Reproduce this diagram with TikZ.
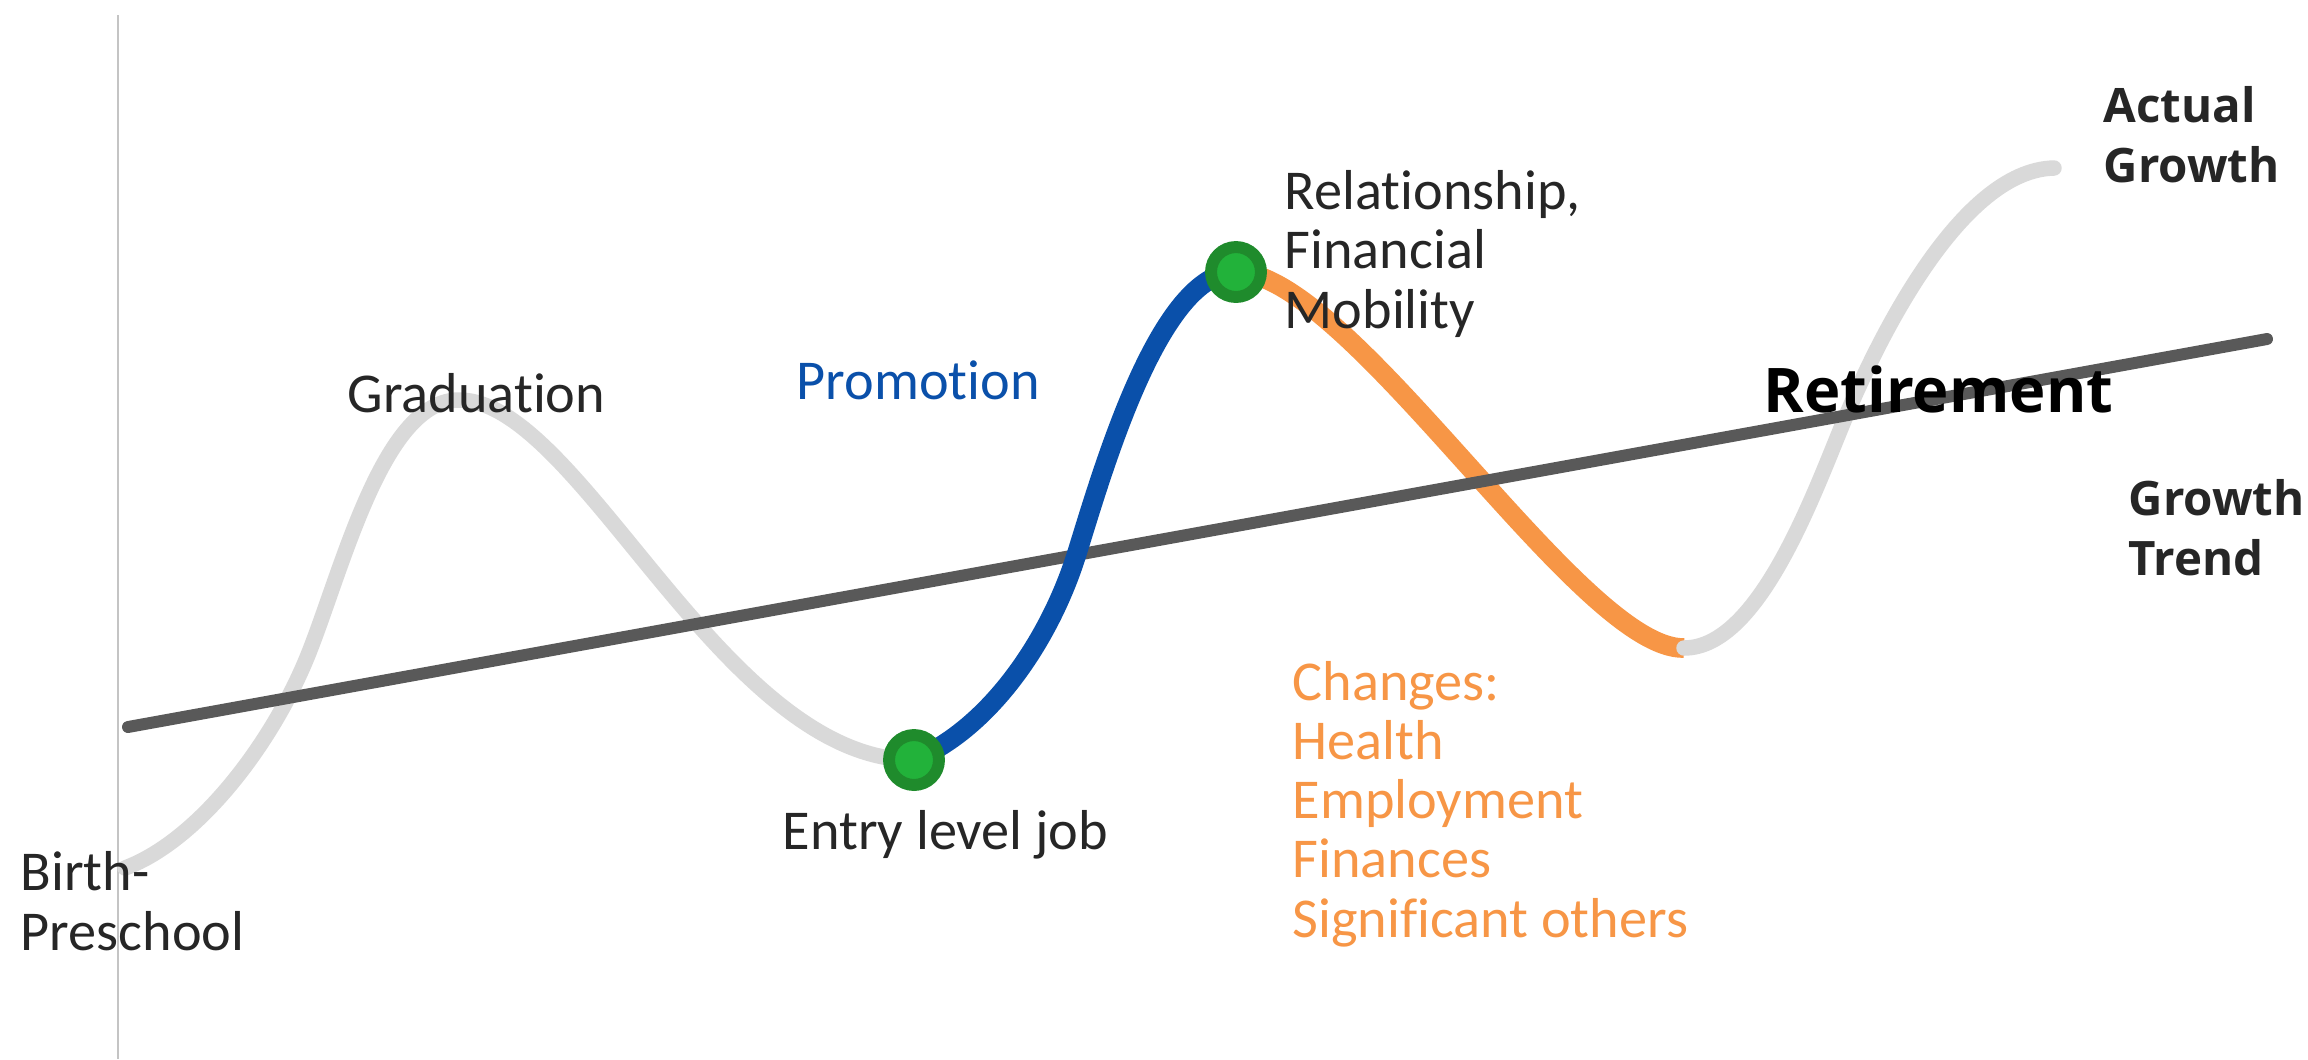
\documentclass[tikz,border=0pt]{standalone}
\usepackage{fontspec}
\usepackage{xcolor}
\usetikzlibrary{calc,
	positioning}
\setmainfont{Carlito}[Ligatures={NoCommon,NoRare}]
\newfontfamily\headfont{Open Sans}
\definecolor{curvegray}{HTML}{D9D9D9}
\definecolor{trendgray}{HTML}{595959}
\definecolor{axisgray}{HTML}{C4C4C4}
\definecolor{riseblue}{HTML}{0A50AA}
\definecolor{fallorange}{HTML}{F79646}
\definecolor{ringgreen}{HTML}{1F8B2C}
\definecolor{dotgreen}{HTML}{22B23A}
\definecolor{labeltext}{HTML}{262626}
\tikzstyle{lbl}=[inner sep=0, anchor=base west, align=left, text=labeltext,
		font=\fontsize{16}{16.8}\selectfont]
\tikzstyle{head}=[inner sep=0, anchor=base west, align=left, text=labeltext,
		font=\headfont\bfseries\fontsize{13.5}{17}\selectfont]
\tikzstyle{dot}=[circle, draw=ringgreen, fill=dotgreen, line width=3.4pt,
		minimum size=14.2pt, inner sep=0]
\tikzstyle{axis}=[draw=axisgray, line width=0.6pt]
\tikzstyle{actual}=[draw=curvegray, line width=4.4pt, line cap=round]
\tikzstyle{trend}=[draw=trendgray, line width=3.4pt, line cap=round]
\tikzstyle{rise}=[draw=riseblue, line width=5.6pt]
\tikzstyle{fall}=[draw=fallorange, line width=5.6pt]

\begin{document}
\begin{tikzpicture}[x=0.01cm, y=-0.01cm]
        \useasboundingbox (0,0) rectangle (2308,1059);
        \coordinate (axtop) at (118,15);
        \coordinate (axbot) at (118,1059);
        \draw[axis] (axtop) -- (axbot);

        \coordinate (birth) at (125,868);
        \coordinate (bend1) at (310,650);
        \coordinate (gradtop) at (459,400);
        \coordinate (entrypt) at (914,760);
        \coordinate (bend2) at (1077,553);
        \coordinate (relpt) at (1236,272);
        \coordinate (lowpt) at (1684,648);
        \coordinate (bend3) at (1846,416);
        \coordinate (endpt) at (2054,168);
        \coordinate (t0) at (128,727);
        \coordinate (t1) at (2267,339);

        \draw[fall] (relpt) .. controls (1350,272) and (1580,650) .. (lowpt);
        \draw[actual] (birth) .. controls (200,840) and (275,740) .. (bend1)
            .. controls (345,560) and (385,400) .. (gradtop)
            .. controls (580,400) and (722,760) .. (entrypt);
        \draw[actual] (lowpt) .. controls (1760,648) and (1815,490) .. (bend3)
            .. controls (1877,342) and (1960,170) .. (endpt);
        \draw[trend] (t0) -- (t1);
        \draw[rise] (entrypt) .. controls (990,728) and (1050,640) .. (bend2)
            .. controls (1104,466) and (1160,272) .. (relpt);
        \node[dot] (entry) at (entrypt) {};
        \node[dot] (rel) at (relpt) {};

        \node[lbl] (birthlbl) at (20,950) {Birth-\\Preschool};
        \node[lbl] (gradlbl) at (347,412) {Graduation};
        \node[lbl, text=riseblue] (promolbl) at (796,399) {Promotion};
        \node[lbl] (entrylbl) at (782,849) {Entry level job};
        \node[lbl] (rellbl) at (1284,328) {Relationship,\\Financial\\Mobility};
        \node[lbl, text=fallorange] (chglbl) at (1292,937) {Changes:\\Health\\Employment\\Finances\\Significant others};
        \node[head, text=black, font=\headfont\bfseries\fontsize{17.5}{20}\selectfont] (retlbl) at (1763,412) {Retirement};
        \node[head] (actlbl) at (2103,182) {Actual\\Growth};
        \node[head] (trendlbl) at (2128,575) {Growth\\Trend};
\end{tikzpicture}
\end{document}
